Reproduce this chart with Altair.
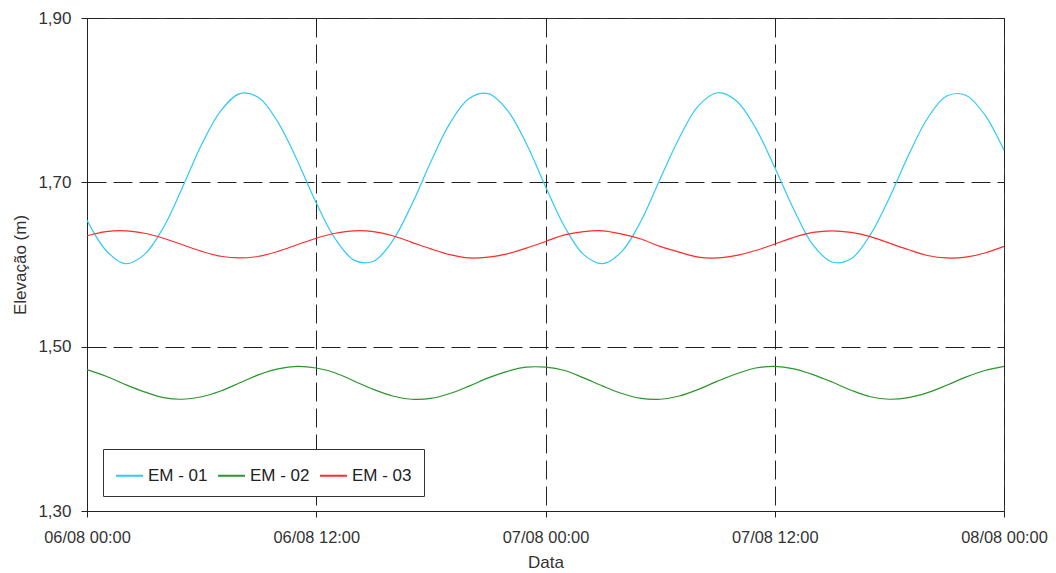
import altair as alt
import pandas as pd

# ---- data (hourly samples) ----
hours = list(range(49))

em01 = [1.654, 1.617, 1.601, 1.612, 1.645, 1.694, 1.746, 1.787, 1.808, 1.803,
        1.773, 1.727, 1.675, 1.631, 1.605, 1.604, 1.629, 1.673, 1.725, 1.772,
        1.802, 1.808, 1.788, 1.747, 1.695, 1.646, 1.612, 1.601, 1.616, 1.653,
        1.704, 1.754, 1.793, 1.809, 1.799, 1.766, 1.718, 1.667, 1.624, 1.603,
        1.607, 1.636, 1.681, 1.733, 1.778, 1.805, 1.806, 1.782, 1.739]

em02 = [1.472, 1.464, 1.454, 1.445, 1.438, 1.436, 1.439, 1.446, 1.456, 1.466,
        1.473, 1.476, 1.474, 1.468, 1.458, 1.448, 1.440, 1.436, 1.437, 1.443,
        1.452, 1.462, 1.470, 1.475, 1.475, 1.471, 1.462, 1.452, 1.443, 1.437,
        1.436, 1.440, 1.448, 1.458, 1.467, 1.474, 1.476, 1.473, 1.466, 1.457,
        1.447, 1.439, 1.436, 1.438, 1.444, 1.453, 1.463, 1.471, 1.476]

em03 = [1.635, 1.640, 1.641, 1.638, 1.632, 1.624, 1.616, 1.610, 1.608, 1.610,
        1.616, 1.624, 1.632, 1.638, 1.641, 1.640, 1.635, 1.627, 1.619, 1.612,
        1.608, 1.609, 1.613, 1.620, 1.628, 1.636, 1.640, 1.641, 1.637, 1.631,
        1.622, 1.615, 1.609, 1.608, 1.611, 1.617, 1.625, 1.633, 1.639, 1.641,
        1.639, 1.634, 1.626, 1.618, 1.611, 1.608, 1.609, 1.614, 1.622]

series_names = ["EM - 01", "EM - 02", "EM - 03"]
series_colors = ["#2fcaf7", "#2b962b", "#ff2b2b"]

x_tick_hours = [0, 12, 24, 36, 48]
x_tick_labels = ["06/08 00:00", "06/08 12:00", "07/08 00:00", "07/08 12:00", "08/08 00:00"]
y_ticks = [1.30, 1.50, 1.70, 1.90]

# ---- long table ----
rows = []
for name, vals in zip(series_names, [em01, em02, em03]):
    for h, v in zip(hours, vals):
        rows.append({"hora": h, "elev": v, "serie": name})
df = pd.DataFrame(rows)

label_array = "[" + ",".join("'" + s + "'" for s in x_tick_labels) + "]"
x_label_expr = label_array + "[round(datum.value / 12)]"
y_label_expr = "replace(format(datum.value, '.2f'), '.', ',')"

FONT = "Liberation Sans"

chart = (
    alt.Chart(df)
    .mark_line(strokeWidth=1.2, interpolate="catmull-rom")
    .encode(
        x=alt.X(
            "hora:Q",
            scale=alt.Scale(domain=[0, 48], nice=False, zero=False),
            axis=alt.Axis(
                values=x_tick_hours,
                labelExpr=x_label_expr,
                title="Data",
                grid=True,
                gridDash=[19, 7],
                gridColor="#222",
                gridWidth=1,
                labelFlush=False,
                labelOverlap=False,
                labelFontSize=16.4,
                tickSize=6,
                labelPadding=12,
                titlePadding=9,
            ),
        ),
        y=alt.Y(
            "elev:Q",
            scale=alt.Scale(domain=[1.3, 1.9], nice=False, zero=False),
            axis=alt.Axis(
                values=y_ticks,
                labelExpr=y_label_expr,
                title="Elevação (m)",
                grid=True,
                gridDash=[19, 7],
                gridColor="#222",
                gridWidth=1,
                labelOverlap=False,
                tickSize=6,
                labelPadding=10,
                titlePadding=8,
            ),
        ),
        color=alt.Color(
            "serie:N",
            scale=alt.Scale(domain=series_names, range=series_colors),
            legend=alt.Legend(
                orient="none",
                legendX=16,
                legendY=431,
                direction="horizontal",
                columns=3,
                title=None,
                symbolType="stroke",
                symbolSize=729,
                symbolStrokeWidth=2,
                labelFont=FONT,
                labelFontSize=17,
                labelColor="#222",
                labelOffset=4,
                columnPadding=6,
                padding=12,
                strokeColor="#333",
                fillColor="white",
            ),
        ),
    )
    .properties(
        width=917,
        height=493,
        background="white",
        autosize=alt.AutoSizeParams(type="none"),
        padding={"left": 79, "top": 10, "right": 44, "bottom": 62},
    )
    .configure_view(stroke="#333", strokeWidth=1)
    .configure_axis(
        labelFont=FONT,
        labelFontSize=17,
        labelColor="#333",
        titleFont=FONT,
        titleFontSize=17,
        titleFontWeight="normal",
        titleColor="#333",
        domainColor="#222",
        tickColor="#222",
    )
)

chart.save("out.html", embed_options={"renderer": "svg", "actions": False})
